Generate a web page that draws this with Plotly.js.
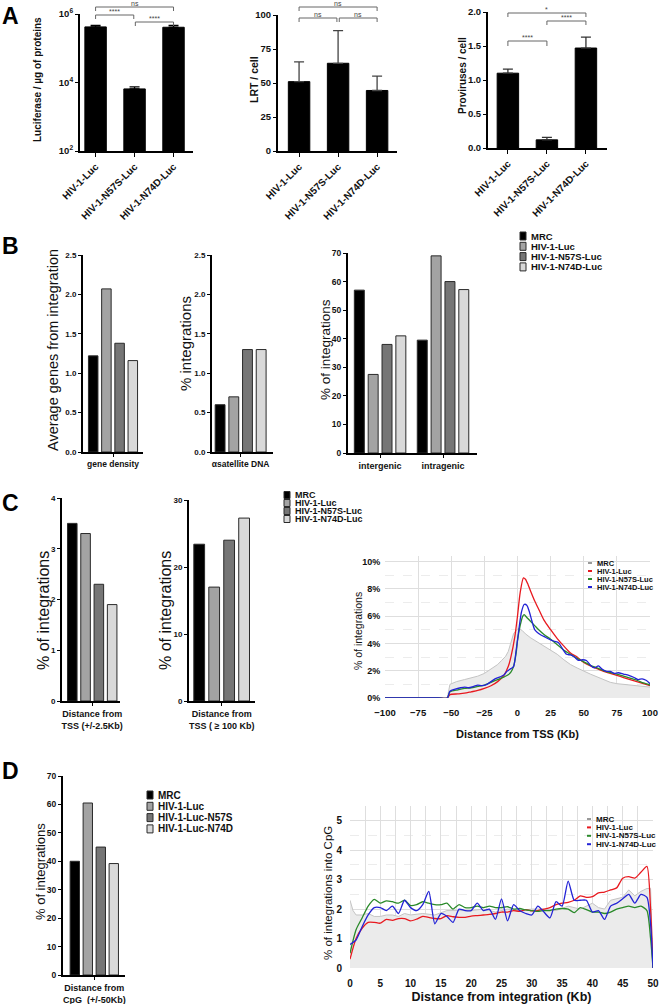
<!DOCTYPE html>
<html><head><meta charset="utf-8">
<script src="https://cdn.plot.ly/plotly-3.0.1.min.js"></script>
<style>html,body{margin:0;padding:0;background:#fff}#chart{width:660px;height:1004px}</style>
</head><body><div id="chart"></div>
<script>
// ---------------- DATA ----------------
const aCategories = ['HIV-1-Luc', 'HIV-1-N57S-Luc', 'HIV-1-N74D-Luc'];
const luciferase = [4.2e5, 6.5e3, 4.1e5];
const luciferaseErr = [0.45e5, 1.0e3, 0.55e5];
const lrtPerCell = [51, 64.5, 44.5];
const lrtErr = [14.5, 24, 10.5];
const provirusesPerCell = [1.10, 0.12, 1.47];
const provirusesErr = [0.06, 0.035, 0.16];

const seriesNames = ['MRC', 'HIV-1-Luc', 'HIV-1-N57S-Luc', 'HIV-1-N74D-Luc'];
const seriesNamesD = ['MRC', 'HIV-1-Luc', 'HIV-1-Luc-N57S', 'HIV-1-Luc-N74D'];

const geneDensityCat = ['gene density'];
const geneDensity = [1.22, 2.07, 1.38, 1.16];
const alphaSatCat = ['\u03b1satellite DNA'];
const alphaSatellite = [0.6, 0.7, 1.3, 1.3];
const genicCats = ['intergenic', 'intragenic'];
const intergenic = [57, 27.5, 38, 41];
const intragenic = [39.5, 69, 60, 57.2];

const tssNearCat = ['Distance from<br>TSS (+/-2.5Kb)'];
const tssNear = [3.5, 3.3, 2.3, 1.9];
const tssFarCat = ['Distance from<br>TSS ( \u2265 100 Kb)'];
const tssFar = [23.4, 17, 24, 27.3];
const cpgCat = ['Distance from<br>CpG  (+/-50Kb)'];
const cpgNear = [40, 60.5, 45, 39.2];

// Distance from TSS profiles (% of integrations)
const mrcTssX = [-100,-60,-53,-51,-46,-40,-36,-30,-25,-20,-15,-12,-9,-7,-5,-3,-1,1,3.5,6,10,15,20,25,30,35,40,45,50,55,60,65,70,75,80,85,90,95,100];
const mrcTssY = [0,0,0,1.0,1.2,1.35,1.45,1.6,1.8,2.1,2.45,2.75,3.05,3.4,4.1,4.7,4.95,5.1,4.95,4.7,4.4,4.1,3.8,3.5,3.2,2.8,2.45,2.2,1.95,1.75,1.55,1.35,1.15,1.05,1.0,0.95,0.9,0.85,0.8];
const hivTssX = [-100,-60,-53,-51,-45,-40,-35,-30,-25,-20,-15,-10,-7,-5,-2,0,2,4.5,6,8,10,13,16,20,25,30,35,40,45,50,55,60,65,70,75,80,85,90,95,100];
const hivTssY = [0,0,0,0.25,0.3,0.35,0.45,0.55,0.7,0.9,1.2,1.7,2.3,3.0,4.5,6.0,7.7,8.8,8.7,8.3,7.8,7.1,6.5,5.7,5.0,4.35,3.8,3.3,3.0,2.6,2.35,2.15,1.95,1.8,1.65,1.5,1.35,1.2,1.05,0.9];
const n57sTssX = [-100,-60,-53,-51,-45,-40,-35,-30,-25,-20,-15,-10,-7,-5,-3,-1,0,2,4,5,7,10,13,16,20,25,30,35,40,45,50,55,60,65,70,75,80,85,90,95,100];
const n57sTssY = [0,0,0,0.45,0.6,0.7,0.75,0.85,0.95,1.15,1.35,1.55,1.7,1.9,2.3,3.3,4.2,5.3,6.0,6.1,5.9,5.6,5.3,5.0,4.65,4.3,3.9,3.5,3.2,2.9,2.65,2.4,2.2,2.0,1.85,1.75,1.6,1.45,1.3,1.1,0.95];
const n74dTssX = [-100,-60,-53,-51,-47,-43,-40,-37,-33,-30,-27,-23,-20,-17,-13,-10,-8,-5,-3,-1,1,3,5,7,9,11,13,15,18,21,25,28,31,34,37,40,43,46,49,52,55,58,61,64,67,70,73,76,80,84,88,91,94,97,100];
const n74dTssY = [0,0,0,0.5,0.65,0.75,0.8,0.75,0.85,0.95,0.9,1.0,1.2,1.4,1.55,1.7,1.95,2.15,2.3,3.5,5.0,6.3,6.85,6.8,6.3,5.6,5.0,4.8,4.6,4.45,4.25,4.15,4.05,3.6,3.2,3.15,3.0,2.75,2.8,2.75,2.4,2.2,2.35,2.1,1.95,1.95,1.8,1.85,1.75,1.65,1.5,1.35,1.4,1.3,1.05];
const tssTickVals = [0, 2, 4, 6, 8, 10];
const tssTickText = ['0%', '2%', '4%', '6%', '8%', '10%'];

// Distance from integration to CpG profiles (% of integrations into CpG)
const mrcCpgX = [0,0.5,1,2,3,4,5,6,7,8,9,10,12,14,16,18,20,22,24,26,28,30,32,34,36,38,40,41,42,43,44,45,46,47,48,49,49.6,50];
const mrcCpgY = [2.3,1.95,1.8,1.8,1.85,1.75,1.75,1.8,1.8,1.75,1.85,1.8,1.85,1.8,1.95,1.95,1.95,2.0,1.9,2.0,1.95,2.0,2.0,1.95,2.1,2.0,2.2,2.05,2.0,2.3,2.35,2.4,2.65,2.45,2.6,2.7,2.7,0];
const cpgX = [0,1,2,3,4,5,6,7,8,9,10,11,12,13,14,15,16,17,18,19,20,21,22,23,24,25,26,27,28,29,30,31,32,33,34,35,36,37,38,39,40,41,42,43,44,45,46,47,48,49,49.6,50];
const hivCpgY = [0.3,1.0,1.35,1.55,1.55,1.52,1.65,1.62,1.68,1.68,1.6,1.66,1.75,1.72,1.68,1.68,1.78,1.74,1.72,1.72,1.76,1.78,1.8,1.82,1.85,1.9,1.9,1.95,1.92,1.98,1.94,1.95,2.0,2.05,2.15,2.2,2.23,2.3,2.45,2.4,2.42,2.55,2.58,2.65,2.72,3.05,3.1,3.05,3.25,3.45,2.0,0];
const n57sCpgY = [0.5,1.3,1.7,2.1,2.33,2.2,2.28,2.25,2.2,2.3,2.12,2.15,2.25,2.2,2.15,2.15,2.2,2.0,2.15,2.05,2.05,2.1,2.05,2.1,2.05,2.05,2.08,2.0,2.02,1.97,1.95,1.92,1.95,1.95,2.0,2.02,2.0,1.88,2.05,1.98,1.9,1.9,1.85,1.9,2.0,2.05,2.1,2.05,2.1,1.95,1.0,0];
const n74dCpgY = [0.8,0.95,1.4,1.8,2.05,2.05,1.95,2.1,1.85,2.3,2.05,1.95,2.15,2.6,1.5,1.85,1.75,1.55,2.0,1.95,1.95,2.2,1.95,2.0,1.65,2.35,1.6,2.15,1.95,1.85,1.8,2.1,1.9,1.7,2.25,2.1,2.95,2.3,2.3,2.3,1.9,1.95,1.65,2.1,2.2,2.35,2.5,2.2,2.5,2.4,1.5,0];

// ---------------- STYLE ----------------
const FONT = 'Arial, "Liberation Sans", Helvetica, sans-serif';
const barColors = ['#000000', '#a3a3a3', '#767676', '#d9d9d9'];
const lineColors = ['#c4c4c4', '#e8191f', '#2a8a2a', '#2323d6'];
const W = 660, H = 1004;
const px = x => x / W;
const py = y => 1 - y / H;

const traces = [];
const layout = {
  width: W, height: H, margin: {l: 0, r: 0, t: 0, b: 0},
  paper_bgcolor: '#ffffff', plot_bgcolor: 'rgba(0,0,0,0)',
  font: {family: FONT, color: '#111'},
  showlegend: false, barmode: 'group', bargap: 0.12, bargroupgap: 0.28,
  shapes: [], annotations: []
};

function boldFont(size) { return {family: FONT, size: size, weight: 'bold', color: '#111'}; }

function catXAxis(x0, x1, anchor, range, extra) {
  return Object.assign({
    domain: [px(x0), px(x1)], anchor: anchor, type: 'category', range: range,
    showline: true, linecolor: '#000', linewidth: 2, ticks: 'outside', ticklen: 3,
    tickwidth: 1, tickcolor: '#000', showgrid: false, zeroline: false,
    tickfont: boldFont(8.5), fixedrange: true
  }, extra || {});
}
function valYAxis(top, bottom, anchor, range, extra) {
  return Object.assign({
    domain: [py(bottom), py(top)], anchor: anchor, range: range,
    showline: true, linecolor: '#000', linewidth: 2, ticks: 'outside', ticklen: 3,
    tickwidth: 1, tickcolor: '#000', showgrid: false, zeroline: false,
    tickfont: boldFont(8.5), fixedrange: true
  }, extra || {});
}
// vertical axis title, placed as a rotated text
function yTitle(text, xc, yc, size, bold) {
  layout.annotations.push({xref: 'paper', yref: 'paper', x: px(xc), y: py(yc), xanchor: 'center', yanchor: 'middle',
    textangle: -90, text: bold ? '<b>' + text + '</b>' : text, showarrow: false,
    font: {family: FONT, size: size, color: '#111'}});
}

// ---------------- PANEL A ----------------
function aBars(n, values, errs, errColor) {
  traces.push({
    type: 'bar', x: aCategories, y: values, width: 0.55,
    xaxis: 'x' + (n === 1 ? '' : n), yaxis: 'y' + (n === 1 ? '' : n),
    marker: {color: '#000', line: {color: '#000', width: 1}},
    error_y: {type: 'data', array: errs, arrayminus: errs.map(() => 0), symmetric: false,
              color: errColor, thickness: 1.3, width: 5},
    showlegend: false, hoverinfo: 'x+y'
  });
}
aBars(1, luciferase, luciferaseErr, '#000');
aBars(2, lrtPerCell, lrtErr, '#444');
aBars(3, provirusesPerCell, provirusesErr, '#333');

const aX = {tickangle: -45, tickfont: boldFont(10), ticklen: 4};
layout.xaxis = catXAxis(80, 193, 'y', [-0.4, 2.5], aX);
layout.yaxis = valYAxis(14, 151, 'x', [2, 6], {
  type: 'log', tickvals: [100, 1e4, 1e6], ticktext: ['10<sup>2</sup>', '10<sup>4</sup>', '10<sup>6</sup>'],
  tickfont: boldFont(9.5)
});
yTitle('Luciferase / \u00b5g of proteins', 37, 80, 10, true);
layout.xaxis2 = catXAxis(278, 397, 'y2', [-0.54, 2.51], aX);
layout.yaxis2 = valYAxis(15, 151, 'x2', [0, 100], {tickvals: [0, 25, 50, 75, 100], tickfont: boldFont(9.5)});
yTitle('LRT / cell', 254, 80, 10.5, true);
layout.xaxis3 = catXAxis(488, 607, 'y3', [-0.51, 2.54], aX);
layout.yaxis3 = valYAxis(12, 148, 'x3', [0, 2], {tickvals: [0, 0.5, 1, 1.5, 2], tickformat: '.1f', tickfont: boldFont(9.5)});
yTitle('Proviruses / cell', 462, 75, 10, true);

function bracket(axisN, x0, x1, yPx, drop, label) {
  const xr = 'x' + (axisN === 1 ? '' : axisN);
  const ln = {color: '#666', width: 1};
  layout.shapes.push(
    {type: 'line', xref: xr, yref: 'paper', x0: x0, x1: x1, y0: py(yPx), y1: py(yPx), line: ln},
    {type: 'line', xref: xr, yref: 'paper', x0: x0, x1: x0, y0: py(yPx), y1: py(yPx + drop), line: ln},
    {type: 'line', xref: xr, yref: 'paper', x0: x1, x1: x1, y0: py(yPx), y1: py(yPx + drop), line: ln}
  );
  layout.annotations.push({xref: xr, yref: 'paper', x: (x0 + x1) / 2, y: py(yPx), yanchor: 'bottom',
    text: label, showarrow: false, font: {family: FONT, size: 7, color: '#444'}, yshift: -2});
}
bracket(1, 0, 2, 7, 4, 'ns');
bracket(1, 0, 0.98, 15, 4, '****');
bracket(1, 1.02, 2, 22, 4, '****');
bracket(2, 0, 2, 7, 4, 'ns');
bracket(2, 0, 0.97, 18, 4, 'ns');
bracket(2, 1.03, 2, 18, 4, 'ns');
bracket(3, 0, 2, 13, 4, '*');
bracket(3, 1, 2, 21, 4, '****');
bracket(3, 0, 1, 41, 5, '****');

// ---------------- grouped bars helper ----------------
function groupedBars(n, cats, valueRows) {
  seriesNames.forEach((name, i) => {
    traces.push({
      type: 'bar', name: name, x: cats, y: valueRows.map(r => r[i]),
      xaxis: 'x' + n, yaxis: 'y' + n,
      marker: {color: barColors[i], line: {color: '#2a2a2a', width: 1}},
      showlegend: false
    });
  });
}

// ---------------- PANEL B ----------------
groupedBars(4, geneDensityCat, [geneDensity]);
groupedBars(5, alphaSatCat, [alphaSatellite]);
groupedBars(6, genicCats, [intergenic, intragenic]);

layout.xaxis4 = catXAxis(83, 143, 'y4', [-0.5, 0.5]);
layout.yaxis4 = valYAxis(255, 452, 'x4', [0, 2.5], {dtick: 0.5, tickformat: '.1f', tickfont: boldFont(8)});
yTitle('Average genes from integration', 53, 350, 14.5, false);
layout.xaxis5 = catXAxis(212, 273, 'y5', [-0.46, 0.52]);
layout.yaxis5 = valYAxis(255, 452, 'x5', [0, 2.5], {dtick: 0.5, tickformat: '.1f', tickfont: boldFont(8)});
yTitle('% integrations', 186, 344, 15, false);
layout.xaxis6 = catXAxis(348, 477, 'y6', [-0.51, 1.54], {tickfont: boldFont(9)});
layout.yaxis6 = valYAxis(253, 453, 'x6', [0, 70], {dtick: 10, tickfont: boldFont(8.5)});
yTitle('% of integrations', 325, 350, 13.5, false);

// ---------------- PANEL C ----------------
groupedBars(7, tssNearCat, [tssNear]);
groupedBars(8, tssFarCat, [tssFar]);
layout.xaxis7 = catXAxis(62, 120, 'y7', [-0.5, 0.46], {tickfont: boldFont(9)});
layout.yaxis7 = valYAxis(498, 701, 'x7', [0, 4], {dtick: 1, tickfont: boldFont(8)});
yTitle('% of integrations', 43, 611, 16, false);
layout.xaxis8 = catXAxis(189, 255, 'y8', [-0.48, 0.49], {tickfont: boldFont(9)});
layout.yaxis8 = valYAxis(500, 701, 'x8', [0, 30], {dtick: 10, tickfont: boldFont(8)});
yTitle('% of integrations', 165, 611, 16, false);

// line chart C
const tssSeries = [[mrcTssX, mrcTssY], [hivTssX, hivTssY], [n57sTssX, n57sTssY], [n74dTssX, n74dTssY]];
tssSeries.forEach((s, i) => {
  traces.push({
    type: 'scatter', mode: 'lines', name: seriesNames[i], x: s[0], y: s[1], xaxis: 'x9', yaxis: 'y9',
    line: i === 0 ? {color: lineColors[0], width: 1} : {color: lineColors[i], width: 1.3, shape: 'spline', smoothing: 0.7},
    fill: i === 0 ? 'tozeroy' : 'none', fillcolor: '#ebebeb', showlegend: false
  });
});
const gridC = '#dedede';
const hiddenTick = 'rgba(0,0,0,0)';
layout.xaxis9 = {
  domain: [px(385), px(650)], anchor: 'y9', range: [-100, 100], dtick: 25, tick0: 0,
  showgrid: true, gridcolor: gridC, zeroline: false, showline: false,
  ticks: 'outside', ticklen: 6, tickcolor: hiddenTick,
  tickfont: boldFont(9.5), fixedrange: true,
  title: {text: '<b>Distance from TSS (Kb)</b>', font: {family: FONT, size: 11, color: '#111'}, standoff: 12}
};
layout.yaxis9 = {
  domain: [py(698), py(556)], anchor: 'x9', range: [0, 10.4], tickvals: tssTickVals, ticktext: tssTickText,
  showgrid: true, gridcolor: gridC, zeroline: false, showline: false,
  ticks: 'outside', ticklen: 2, tickcolor: hiddenTick,
  minor: {dtick: 1, showgrid: true, gridcolor: '#ececec', griddash: 'dash'},
  tickfont: boldFont(9), fixedrange: true
};
yTitle('% of integrations', 358, 631, 10.5, false);

// ---------------- PANEL D ----------------
groupedBars(10, cpgCat, [cpgNear]);
layout.xaxis10 = catXAxis(63, 125, 'y10', [-0.53, 0.52], {tickfont: boldFont(9)});
layout.yaxis10 = valYAxis(776, 975, 'x10', [0, 70], {dtick: 10, tickfont: boldFont(8.5)});
yTitle('% of integrations', 40, 872, 13, false);

const cpgSeries = [[mrcCpgX, mrcCpgY], [cpgX, hivCpgY], [cpgX, n57sCpgY], [cpgX, n74dCpgY]];
cpgSeries.forEach((s, i) => {
  traces.push({
    type: 'scatter', mode: 'lines', name: seriesNames[i], x: s[0], y: s[1], xaxis: 'x11', yaxis: 'y11',
    line: i === 0 ? {color: lineColors[0], width: 1} : {color: lineColors[i], width: 1.3, shape: 'spline', smoothing: 0.6},
    fill: i === 0 ? 'tozeroy' : 'none', fillcolor: '#ebebeb', showlegend: false
  });
});
layout.xaxis11 = {
  domain: [px(350), px(653)], anchor: 'y11', range: [0, 50], dtick: 5,
  showgrid: true, gridcolor: gridC, zeroline: false, showline: false,
  ticks: 'outside', ticklen: 6, tickcolor: hiddenTick,
  minor: {dtick: 2.5, showgrid: true, gridcolor: gridC},
  tickfont: boldFont(10), fixedrange: true,
  title: {text: '<b>Distance from integration (Kb)</b>', font: {family: FONT, size: 12.5, color: '#111'}, standoff: 6}
};
layout.yaxis11 = {
  domain: [py(968), py(806)], anchor: 'x11', range: [0, 5.5], dtick: 1,
  showgrid: true, gridcolor: gridC, zeroline: false, showline: false,
  ticks: 'outside', ticklen: 5, tickcolor: hiddenTick,
  minor: {dtick: 0.5, showgrid: true, gridcolor: '#ececec', griddash: 'dash'},
  tickfont: boldFont(10), fixedrange: true
};
yTitle('% of integrations into CpG', 328, 893, 11.5, false);

// ---------------- LEGENDS ----------------
function squareLegend(names, x, yTop, rowH, fs, sw, sh) {
  names.forEach((n, i) => {
    const yc = yTop + i * rowH;
    layout.shapes.push({type: 'rect', xref: 'paper', yref: 'paper',
      x0: px(x), x1: px(x + sw), y0: py(yc + sh / 2), y1: py(yc - sh / 2),
      fillcolor: barColors[i], line: {color: '#2a2a2a', width: 1}});
    layout.annotations.push({xref: 'paper', yref: 'paper', x: px(x + sw + 3), y: py(yc),
      xanchor: 'left', yanchor: 'middle', text: '<b>' + n + '</b>', showarrow: false,
      font: {family: FONT, size: fs, color: '#111'}});
  });
}
function lineLegend(names, x, yTop, rowH, fs) {
  names.forEach((n, i) => {
    const yc = yTop + i * rowH;
    layout.shapes.push({type: 'line', xref: 'paper', yref: 'paper',
      x0: px(x), x1: px(x + 4), y0: py(yc), y1: py(yc), line: {color: i === 0 ? '#9a9a9a' : lineColors[i], width: 2}});
    layout.annotations.push({xref: 'paper', yref: 'paper', x: px(x + 7), y: py(yc),
      xanchor: 'left', yanchor: 'middle', text: '<b>' + n + '</b>', showarrow: false,
      font: {family: FONT, size: fs, color: '#111'}});
  });
}
squareLegend(seriesNames, 520, 236, 10.3, 9.5, 6, 8);
squareLegend(seriesNames, 284, 495, 8, 9, 6, 7);
squareLegend(seriesNamesD, 147, 795, 11.3, 10, 6, 8);
lineLegend(seriesNames, 588, 563, 8, 7.5);
lineLegend(seriesNames, 587, 819, 8.4, 8);

// ---------------- PANEL LETTERS ----------------
[['A', 0, 1], ['B', 0, 231], ['C', 0, 488], ['D', 0, 756]].forEach(([t, x, y]) => {
  layout.annotations.push({xref: 'paper', yref: 'paper', x: px(x), y: py(y), xanchor: 'left', yanchor: 'top',
    text: '<b>' + t + '</b>', showarrow: false, font: {family: FONT, size: 23, color: '#000'}});
});

Plotly.newPlot('chart', traces, layout, {staticPlot: true, displayModeBar: false});
</script>
</body></html>
